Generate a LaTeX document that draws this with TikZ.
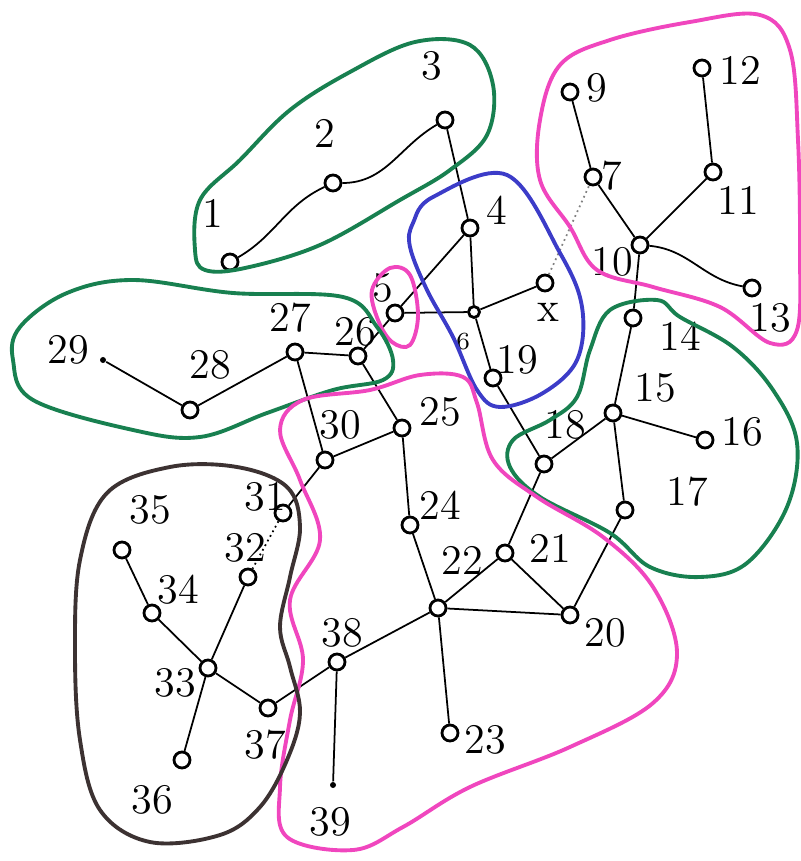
\documentclass[tikz,border=0pt]{standalone}
\usepackage{tikz}
\definecolor{hullgreen}{RGB}{24,128,80}
\definecolor{hullpink}{RGB}{240,70,190}
\definecolor{hullblue}{RGB}{60,60,200}
\definecolor{hulldark}{RGB}{60,50,50}
\begin{document}
\begin{tikzpicture}[x=0.01cm, y=-0.01cm, >=stealth,
	v/.style={circle, draw, line width=0.8pt, inner sep=0pt, minimum size=0.16cm},
	sv/.style={circle, draw, line width=0.8pt, inner sep=0pt, minimum size=0.11cm},
	dot/.style={circle, fill, inner sep=0pt, minimum size=0.06cm},
	lab/.style={font=\large},
	hull/.style={line width=1.1pt, smooth cycle, tension=0.6},
	e/.style={line width=0.5pt}]
	\useasboundingbox (0,0) rectangle (801,861);

	% Вершины
	\node[v] (n1) at (230,262) {};
	\node[v] (n2) at (333,183) {};
	\node[v] (n3) at (445,120) {};
	\node[v] (n4) at (470,228) {};
	\node[v] (n5) at (395,313) {};
	\node[sv] (n6) at (474,312) {};
	\node[v] (n8) at (545,283) {};
	\node[v] (n19) at (493,378) {};
	\node[v] (n7) at (593,177) {};
	\node[v] (n9) at (570,92) {};
	\node[v] (n12) at (702,68) {};
	\node[v] (n11) at (713,172) {};
	\node[v] (n10) at (640,245) {};
	\node[v] (n13) at (752,288) {};
	\node[v] (n14) at (633,318) {};
	\node[v] (n15) at (613,413) {};
	\node[v] (n16) at (705,440) {};
	\node[v] (n17) at (625,510) {};
	\node[v] (n18) at (544,464) {};
	\node[v] (n21) at (505,553) {};
	\node[v] (n20) at (570,615) {};
	\node[v] (n22) at (438,608) {};
	\node[v] (n23) at (450,733) {};
	\node[v] (n24) at (410,525) {};
	\node[v] (n25) at (402,428) {};
	\node[v] (n26) at (358,356) {};
	\node[v] (n27) at (295,352) {};
	\node[v] (n28) at (190,410) {};
	\node[dot] (n29) at (103,360) {};
	\node[v] (n30) at (325,460) {};
	\node[v] (n31) at (283,513) {};
	\node[v] (n32) at (248,577) {};
	\node[v] (n33) at (208,668) {};
	\node[v] (n34) at (152,613) {};
	\node[v] (n35) at (122,550) {};
	\node[v] (n36) at (182,760) {};
	\node[v] (n37) at (268,708) {};
	\node[v] (n38) at (337,662) {};
	\node[dot] (n39) at (333,785) {};

	% Подписи
	\node[lab] (t1) at (213,213) {1};
	\node[lab] (t2) at (325,133) {2};
	\node[lab] (t3) at (432,66) {3};
	\node[lab] (t4) at (497,210) {4};
	\node[lab] (t5) at (383,288) {5};
	\node[font=\scriptsize] (t6) at (463,342) {6};
	\node[lab] (t8) at (548,312) {x};
	\node[lab] (t19) at (517,360) {19};
	\node[lab] (t7) at (612,176) {7};
	\node[lab] (t9) at (597,88) {9};
	\node[lab] (t12) at (740,70) {12};
	\node[lab] (t11) at (738,200) {11};
	\node[lab] (t10) at (612,262) {10};
	\node[lab] (t13) at (770,318) {13};
	\node[lab] (t14) at (680,336) {14};
	\node[lab] (t15) at (655,388) {15};
	\node[lab] (t16) at (742,432) {16};
	\node[lab] (t17) at (687,492) {17};
	\node[lab] (t18) at (565,425) {18};
	\node[lab] (t21) at (550,548) {21};
	\node[lab] (t20) at (605,633) {20};
	\node[lab] (t22) at (462,560) {22};
	\node[lab] (t23) at (485,740) {23};
	\node[lab] (t24) at (440,505) {24};
	\node[lab] (t25) at (440,412) {25};
	\node[lab] (t26) at (355,332) {26};
	\node[lab] (t27) at (290,318) {27};
	\node[lab] (t28) at (210,365) {28};
	\node[lab] (t29) at (68,350) {29};
	\node[lab] (t30) at (340,425) {30};
	\node[lab] (t31) at (265,497) {31};
	\node[lab] (t32) at (245,548) {32};
	\node[lab] (t33) at (175,683) {33};
	\node[lab] (t34) at (178,590) {34};
	\node[lab] (t35) at (150,510) {35};
	\node[lab] (t36) at (152,800) {36};
	\node[lab] (t37) at (265,745) {37};
	\node[lab] (t38) at (342,633) {38};
	\node[lab] (t39) at (330,822) {39};

	% Рёбра
	\draw[e] (n1) to[out=30, in=205] (n2);
	\draw[e] (n2) to[out=0, in=210] (n3);
	\draw[e] (n3) -- (n4);
	\draw[e] (n4) -- (n5);
	\draw[e] (n5) -- (n26);
	\draw[e] (n4) -- (n6);
	\draw[e] (n5) -- (n6);
	\draw[e] (n6) -- (n8);
	\draw[e] (n6) -- (n19);
	\draw[e] (n19) -- (n18);
	\draw[e, gray, densely dotted] (n8) -- (n7);
	\draw[e] (n7) -- (n9);
	\draw[e] (n7) -- (n10);
	\draw[e] (n10) -- (n11);
	\draw[e] (n11) -- (n12);
	\draw[e] (n10) to[out=-5, in=170] (n13);
	\draw[e] (n10) -- (n14);
	\draw[e] (n14) -- (n15);
	\draw[e] (n15) -- (n18);
	\draw[e] (n15) -- (n16);
	\draw[e] (n15) -- (n17);
	\draw[e] (n17) -- (n20);
	\draw[e] (n18) -- (n21);
	\draw[e] (n21) -- (n22);
	\draw[e] (n21) -- (n20);
	\draw[e] (n22) -- (n20);
	\draw[e] (n22) -- (n24);
	\draw[e] (n24) -- (n25);
	\draw[e] (n25) -- (n26);
	\draw[e] (n25) -- (n30);
	\draw[e] (n27) -- (n26);
	\draw[e] (n27) -- (n28);
	\draw[e] (n28) -- (n29);
	\draw[e] (n27) -- (n30);
	\draw[e] (n30) -- (n31);
	\draw[e, densely dotted] (n31) -- (n32);
	\draw[e] (n33) -- (n32);
	\draw[e] (n33) -- (n34);
	\draw[e] (n34) -- (n35);
	\draw[e] (n33) -- (n36);
	\draw[e] (n33) -- (n37);
	\draw[e] (n37) -- (n38);
	\draw[e] (n38) -- (n22);
	\draw[e] (n22) -- (n23);
	\draw[e] (n38) -- (n39);

	% Кластеры
	\draw[hull, hullgreen] plot coordinates {(195,250) (200,200) (240,160) (290,110) (350,72) (415,42) (470,45) (493,85) (487,135) (450,170) (400,200) (320,245) (245,268) (205,270)};
	\draw[hull, hullblue] plot coordinates {(413,223) (433,197) (507,175) (560,253) (582,307) (577,360) (543,393) (500,407) (477,390) (453,337) (427,290) (410,247)};
	\draw[hull, hullpink] plot coordinates {(372,290) (390,268) (410,275) (418,315) (410,345) (392,342) (378,320)};
	\draw[hull, hullpink] plot coordinates {(540,120) (560,65) (610,40) (690,22) (760,15) (790,50) (798,140) (800,250) (797,330) (770,343) (720,307) (653,287) (597,270) (570,227) (540,180)};
	\draw[hull, hullgreen] plot coordinates {(657,300) (610,310) (590,350) (577,397) (550,420) (513,440) (510,467) (540,497) (610,533) (650,567) (700,577) (747,563) (787,507) (797,443) (773,390) (733,347) (680,317)};
	\draw[hull, hullgreen] plot coordinates {(67,293) (20,327) (13,360) (33,400) (133,430) (200,437) (267,413) (333,390) (383,380) (393,360) (377,327) (343,297) (233,293) (133,280)};
	\draw[hull, hullpink] plot coordinates {(280,430) (303,400) (370,390) (420,375) (463,377) (477,403) (493,460) (537,497) (603,537) (653,587) (677,653) (653,703) (570,747) (470,787) (403,827) (353,850) (287,837) (280,787) (290,720) (303,660) (290,600) (320,540) (300,480)};
	\draw[hull, hulldark] plot coordinates {(107,493) (170,467) (237,467) (287,487) (300,527) (290,577) (280,627) (290,667) (300,713) (287,760) (260,807) (220,835) (150,842) (100,810) (80,740) (75,650) (80,560)};
\end{tikzpicture}
\end{document}
